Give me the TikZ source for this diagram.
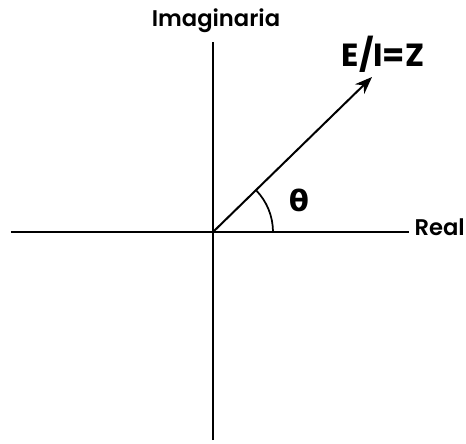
\documentclass[tikz,border=0pt]{standalone}
\usepackage{fontspec}
\setmainfont{Poppins}[UprightFont={* SemiBold}, BoldFont={* Bold}]
\newfontfamily\grkfont{DejaVu Sans}
\usetikzlibrary{arrows.meta, positioning}
\tikzset{
    axisline/.style={line width=1.5pt},
    vecarrow/.style={-{Stealth[length=13pt, width=10pt]}, line width=1.5pt},
    anglearc/.style={line width=1.3pt},
    axlabel/.style={font=\fontsize{17}{19}\selectfont, inner sep=0pt},
    veclabel/.style={font=\bfseries\fontsize{24}{27}\selectfont, inner sep=0pt}
}
\begin{document}
\begin{tikzpicture}[x=0.75pt, y=0.75pt]
  \useasboundingbox (-213,-211) rectangle (253,232);
  \coordinate (O) at (0,0);
  \coordinate (xl) at (-202,0);
  \coordinate (xr) at (196,0);
  \coordinate (yt) at (0,190);
  \coordinate (yb) at (0,-208);
  \coordinate (tip) at (159,155);
  % axes
  \draw[axisline] (xl) -- (xr);
  \draw[axisline] (yb) -- (yt);
  \node[axlabel, anchor=base east] (real) at (252,-3) {Real};
  \node[axlabel, anchor=base] (imag) at (3,205) {Imaginaria};
  % impedance vector
  \draw[vecarrow] (O) -- (tip);
  \node[veclabel] (zlab) at (170,178) {E/I=Z};
  % angle
  \draw[anglearc] (60,0) arc[start angle=0, end angle=44, radius=60];
  \node[font=\grkfont\bfseries\fontsize{22}{24}\selectfont, inner sep=0pt] (theta) at (86,32) {θ};
\end{tikzpicture}
\end{document}
